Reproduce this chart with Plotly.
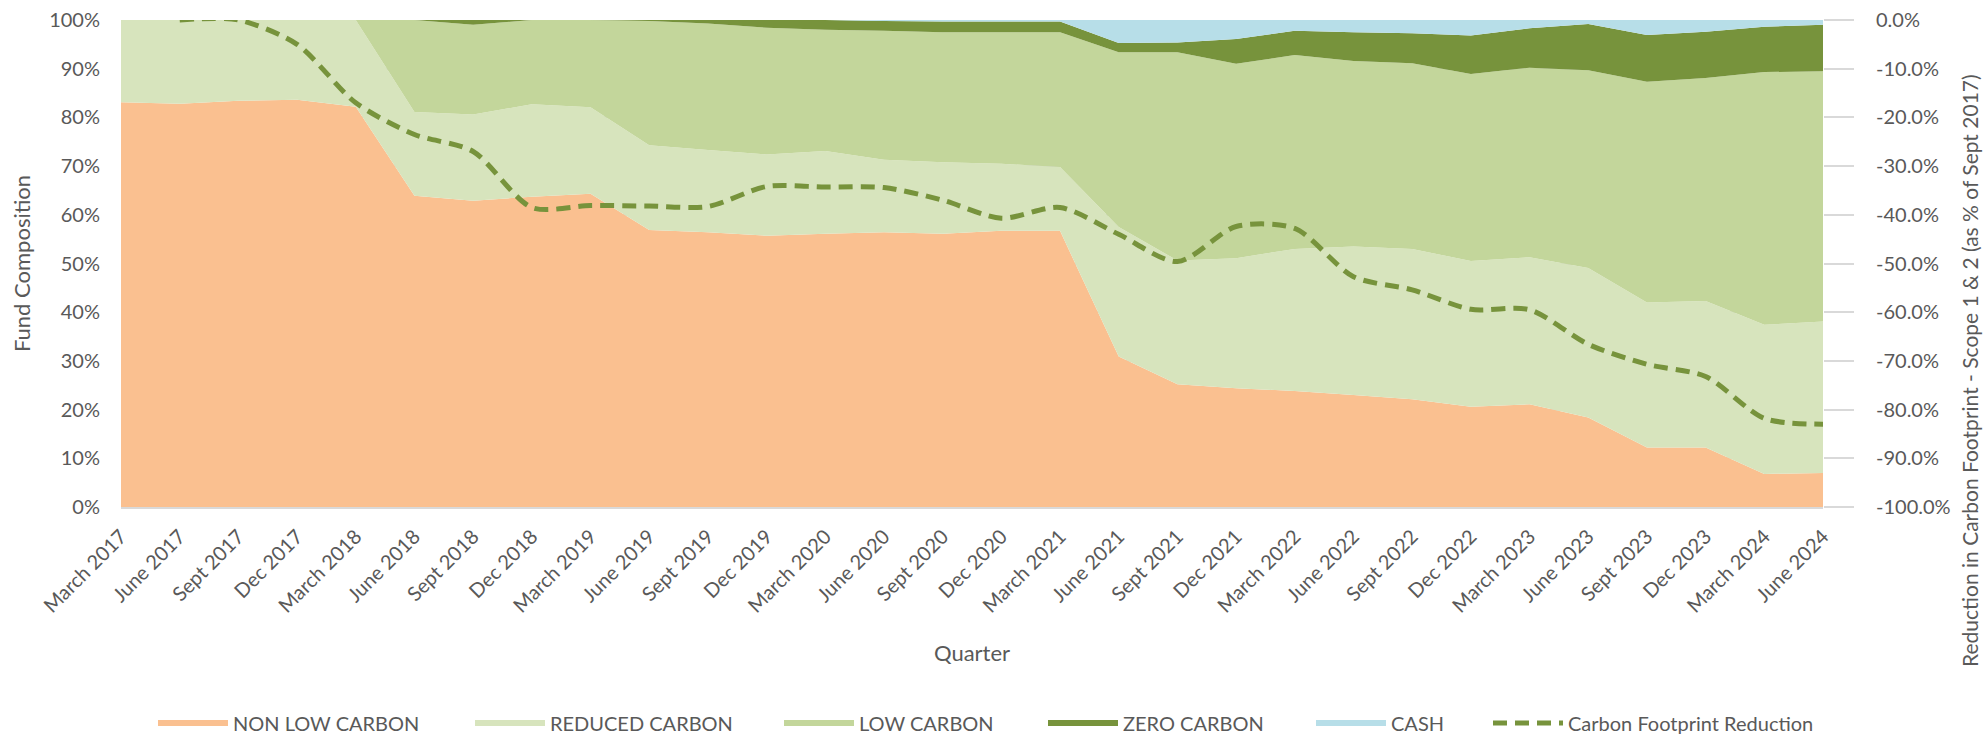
import plotly.graph_objects as go

quarters = [
    "March 2017", "June 2017", "Sept 2017", "Dec 2017",
    "March 2018", "June 2018", "Sept 2018", "Dec 2018",
    "March 2019", "June 2019", "Sept 2019", "Dec 2019",
    "March 2020", "June 2020", "Sept 2020", "Dec 2020",
    "March 2021", "June 2021", "Sept 2021", "Dec 2021",
    "March 2022", "June 2022", "Sept 2022", "Dec 2022",
    "March 2023", "June 2023", "Sept 2023", "Dec 2023",
    "March 2024", "June 2024",
]

non_low_carbon = [83.1, 82.8, 83.4, 83.6, 82.2, 63.9, 62.9, 63.7, 64.3, 56.9,
                  56.4, 55.7, 56.1, 56.4, 56.1, 56.7, 56.7, 30.9, 25.2, 24.4,
                  23.8, 23.0, 22.1, 20.6, 21.1, 18.4, 12.2, 12.2, 6.8, 7.0]
reduced_carbon = [16.9, 17.2, 16.6, 16.4, 17.8, 17.2, 17.7, 19.0, 17.8, 17.4,
                  16.9, 16.7, 17.0, 14.9, 14.7, 13.8, 13.1, 26.6, 25.4, 26.7,
                  29.2, 30.5, 30.9, 29.9, 30.2, 30.7, 29.8, 30.1, 30.6, 31.1]
low_carbon = [0.0, 0.0, 0.0, 0.0, 0.0, 18.9, 18.4, 17.3, 17.9, 25.5,
              26.0, 26.0, 24.9, 26.5, 26.7, 27.0, 27.7, 35.9, 42.8, 39.9,
              39.8, 38.1, 38.1, 38.4, 38.9, 40.6, 45.3, 45.8, 51.9, 51.4]
zero_carbon = [0.0, 0.0, 0.0, 0.0, 0.0, 0.0, 1.0, 0.0, 0.0, 0.2,
               0.7, 1.6, 2.0, 2.0, 2.2, 2.2, 2.2, 1.9, 2.0, 5.1,
               5.0, 5.9, 6.2, 7.9, 8.1, 9.5, 9.6, 9.5, 9.3, 9.5]
cash = [0.0, 0.0, 0.0, 0.0, 0.0, 0.0, 0.0, 0.0, 0.0, 0.0,
        0.0, 0.0, 0.0, 0.2, 0.3, 0.3, 0.3, 4.7, 4.6, 3.9,
        2.2, 2.5, 2.7, 3.2, 1.7, 0.8, 3.1, 2.4, 1.4, 1.0]
footprint_reduction = [None, 0.0, 0.0, -5.0, -17.0, -23.5, -27.0, -38.5, -38.1, -38.2,
                       -38.3, -34.2, -34.3, -34.4, -37.0, -40.7, -38.5, -44.0, -49.6, -42.4,
                       -42.8, -52.7, -55.4, -59.4, -59.5, -66.6, -70.7, -73.2, -81.8, -83.0]

left_tickvals = [0, 10, 20, 30, 40, 50, 60, 70, 80, 90, 100]
left_ticktext = ["0%", "10%", "20%", "30%", "40%", "50%", "60%", "70%", "80%", "90%", "100%"]
right_tickvals = [-100, -90, -80, -70, -60, -50, -40, -30, -20, -10, 0]
right_ticktext = ["-100.0%", "-90.0%", "-80.0%", "-70.0%", "-60.0%", "-50.0%",
                  "-40.0%", "-30.0%", "-20.0%", "-10.0%", "0.0%"]

FONT = "Lato"
GREY = "#595959"
FS = 20

W, H = 1988, 735
ML, MR, MT, MB = 121, 165, 20, 228
PW = W - ML - MR
PH = H - MT - MB

areas = [
    ("NON LOW CARBON", non_low_carbon, "#FAC090"),
    ("REDUCED CARBON", reduced_carbon, "#D7E4BD"),
    ("LOW CARBON", low_carbon, "#C3D69B"),
    ("ZERO CARBON", zero_carbon, "#77933C"),
    ("CASH", cash, "#B7DEE8"),
]
# left pixel position of each legend entry (layout only)
legend_px = [153, 470, 779, 1043, 1311, 1488]
legend_names = ["legend", "legend2", "legend3", "legend4", "legend5", "legend6"]

fig = go.Figure()
for k, (name, vals, color) in enumerate(areas):
    fig.add_trace(go.Scatter(
        x=quarters, y=vals, name=name, mode="none",
        stackgroup="one", fillcolor=color, line=dict(width=0),
        legend=legend_names[k],
    ))

fig.add_trace(go.Scatter(
    x=quarters, y=footprint_reduction, name="Carbon Footprint Reduction",
    yaxis="y2", mode="lines",
    line=dict(color="#77933C", width=5, dash="14px,8px", shape="spline", smoothing=0.8),
    connectgaps=False, legend=legend_names[5],
))

legend_layout = {}
for k, lname in enumerate(legend_names):
    legend_layout[lname] = dict(
        orientation="h", x=(legend_px[k] - ML) / PW, xanchor="left",
        y=(MT + PH - 723) / PH, yanchor="middle",
        font=dict(family=FONT, size=FS, color=GREY), itemwidth=70,
        bgcolor="rgba(0,0,0,0)",
    )

fig.update_layout(
    width=W, height=H,
    margin=dict(l=ML, r=MR, t=MT, b=MB, autoexpand=False),
    paper_bgcolor="white", plot_bgcolor="white",
    font=dict(family=FONT, size=FS, color=GREY),
    showlegend=True,
    xaxis=dict(
        type="category", range=[0, 29], tickangle=-45,
        showline=True, linecolor="#D9D9D9", linewidth=2,
        showgrid=False, zeroline=False, ticks="",
        ticklabelstandoff=8,
        tickfont=dict(family=FONT, size=FS, color=GREY),
        title=dict(text="Quarter", standoff=30, font=dict(family=FONT, size=FS + 2, color=GREY)),
        automargin=False,
    ),
    yaxis=dict(
        range=[0, 100], tickvals=left_tickvals, ticktext=left_ticktext,
        showgrid=True, gridcolor="#D9D9D9", gridwidth=1.5, zeroline=False,
        showline=False, ticks="", ticklabelstandoff=20,
        tickfont=dict(family=FONT, size=FS, color=GREY),
        title=dict(text="Fund Composition", standoff=12, font=dict(family=FONT, size=FS + 2, color=GREY)),
        automargin=False,
    ),
    yaxis2=dict(
        overlaying="y", side="right", range=[-100, 0],
        tickvals=right_tickvals, ticktext=right_ticktext,
        showgrid=False, zeroline=False, showline=False,
        ticks="outside", ticklen=30, tickwidth=2, tickcolor="#D9D9D9",
        ticklabelstandoff=18,
        tickfont=dict(family=FONT, size=FS, color=GREY),
        automargin=False,
    ),
    annotations=[dict(
        text="Reduction in Carbon Footprint - Scope 1 & 2 (as % of Sept 2017)",
        textangle=-90, xref="paper", yref="paper",
        x=(1969 - ML) / PW, y=(MT + PH - 371) / PH,
        xanchor="center", yanchor="middle", showarrow=False,
        font=dict(family=FONT, size=FS + 1, color=GREY),
    )],
    **legend_layout,
)

fig.write_html("out.html", config={"displayModeBar": False},
               post_script="document.body.style.margin='0';")
